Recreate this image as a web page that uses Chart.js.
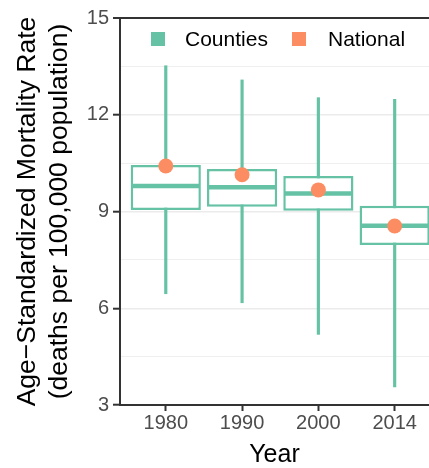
<!DOCTYPE html>
<html>
<head>
<meta charset="utf-8">
<script src="https://cdn.jsdelivr.net/npm/chart.js@4"></script>
<style>
  body { margin: 0; background: #fff; font-family: 'Liberation Sans', Arial, sans-serif; }
  #wrap { position: relative; width: 429px; height: 468px; overflow: hidden; }
  .key { position: absolute; width: 14px; height: 14px; top: 32px; }
  .lab { position: absolute; top: 27px; font-size: 21px; color: #000; line-height: 24px; }
</style>
</head>
<body>
<div id="wrap">
  <canvas id="grafico"></canvas>
  <div class="key" style="left:151px;background:#66C2A5"></div>
  <div class="lab" style="left:185px">Counties</div>
  <div class="key" style="left:292px;background:#FC8D62"></div>
  <div class="lab" style="left:328px">National</div>
</div>
<script>
// datos
const years = ['1980', '1990', '2000', '2014'];
const whiskerLow = [6.45, 6.17, 5.19, 3.56];
const boxLow = [9.05, 9.15, 9.02, 7.96];
const medians = [9.79, 9.75, 9.56, 8.56];
const boxHigh = [10.44, 10.32, 10.10, 9.18];
const whiskerHigh = [13.52, 13.08, 12.53, 12.48];
const national = [10.41, 10.14, 9.67, 8.55];
const yTicks = [3, 6, 9, 12, 15];

const verde = '#66C2A5', naranja = '#FC8D62';
const fuente = "'Liberation Sans', Arial, sans-serif";

const ctx = document.getElementById('grafico').getContext('2d');
new Chart(ctx, {
    type: 'bar',
    data: {
        datasets: [
            { label: 'whiskers', data: years.map((_, i) => ({ x: i, y: [whiskerLow[i], whiskerHigh[i]] })),
              backgroundColor: verde, barThickness: 2.5, grouped: false, order: 3 },
            { label: 'Counties', data: years.map((_, i) => ({ x: i, y: [boxLow[i], boxHigh[i]] })),
              backgroundColor: '#fff', borderColor: verde, borderWidth: 2.5, borderSkipped: false,
              barPercentage: 0.92, categoryPercentage: 1, grouped: false, order: 2 },
            { type: 'line', label: 'median', data: years.map((_, i) => ({ x: i, y: medians[i] })),
              showLine: false, pointStyle: 'line', pointRadius: 33.5, pointBorderWidth: 4.5,
              pointBorderColor: verde, order: 1 },
            { type: 'line', label: 'National', data: years.map((_, i) => ({ x: i, y: national[i] })),
              showLine: false, pointRadius: 7.5, pointBorderWidth: 0, pointBackgroundColor: naranja, order: 0 }
        ]
    },
    options: {
        responsive: true, maintainAspectRatio: false, animation: false,
        layout: { autoPadding: false, padding: { top: 18, right: 0, left: 0, bottom: 0 } },
        plugins: { legend: { display: false }, tooltip: { enabled: false } },
        scales: {
            x: {
                type: 'linear', min: -0.6, max: 3.45, offset: false,
                afterBuildTicks: s => { s.ticks = years.map((_, i) => ({ value: i })); },
                afterFit: s => { s.height = 63; },
                ticks: { callback: v => years[v], color: '#4D4D4D', font: { family: fuente, size: 20 }, padding: 0, autoSkip: false, maxRotation: 0 },
                grid: { offset: false, drawOnChartArea: false, tickColor: '#333', tickLength: 6, tickWidth: 2 },
                border: { color: '#333', width: 2 },
                title: { display: true, text: 'Year', color: '#000', font: { family: fuente, size: 25, lineHeight: 1 }, padding: { top: 0, bottom: 0 } }
            },
            y: {
                min: 3, max: 15,
                afterBuildTicks: s => { s.ticks = [3, 4.5, 6, 7.5, 9, 10.5, 12, 13.5, 15].map(v => ({ value: v })); },
                afterFit: s => { s.width = 120; },
                ticks: { callback: v => yTicks.includes(v) ? v : '', color: '#4D4D4D', font: { family: fuente, size: 20 }, padding: 4, autoSkip: false },
                grid: {
                    color: c => c.tick && c.tick.value === 15 ? '#333' : '#EBEBEB',
                    lineWidth: c => c.tick && c.tick.value === 15 ? 2 : (c.tick && yTicks.includes(c.tick.value) ? 1.4 : 0.8),
                    tickColor: c => c.tick && yTicks.includes(c.tick.value) ? '#333' : 'rgba(0,0,0,0)',
                    tickLength: 7, tickWidth: 2
                },
                border: { color: '#333', width: 2 },
                title: { display: true, text: ['Age\u2212Standardized Mortality Rate', '(deaths per 100,000 population)'],
                         color: '#000', font: { family: fuente, size: 26.5, lineHeight: 1.2 }, padding: { top: 12, bottom: 0 } }
            }
        }
    }
});
</script>
</body>
</html>
